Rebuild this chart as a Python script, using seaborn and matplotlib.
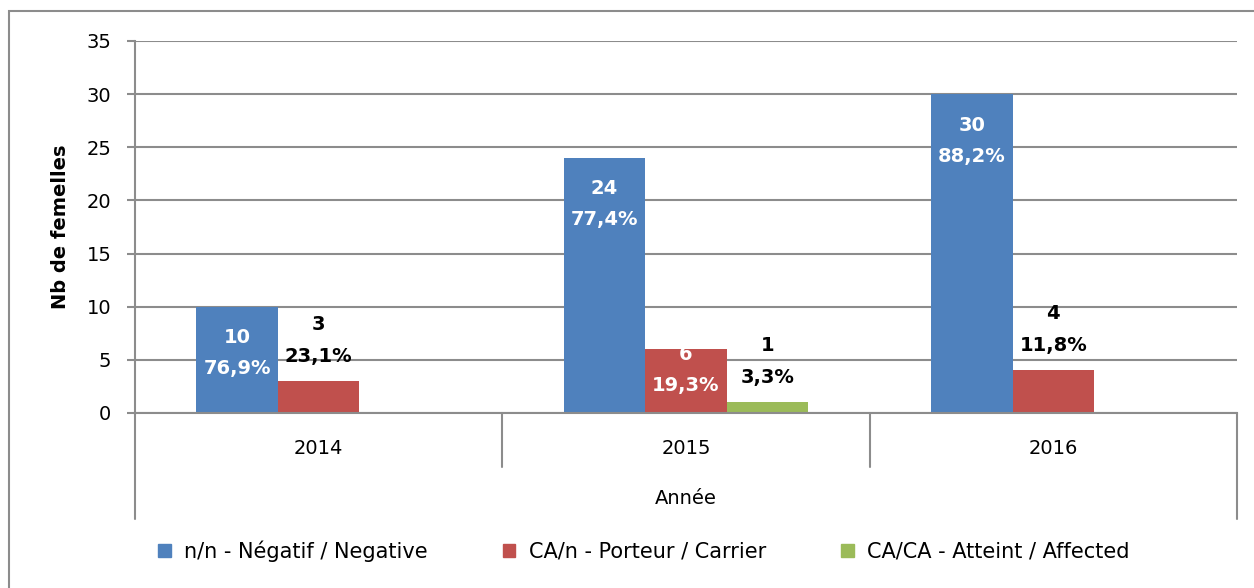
import pandas as pd
import seaborn as sns
import matplotlib.pyplot as plt
from matplotlib.patches import Rectangle
from matplotlib.lines import Line2D

years = ["2014", "2015", "2016"]
genotypes = [
    "n/n - Négatif / Negative",
    "CA/n - Porteur / Carrier",
    "CA/CA - Atteint / Affected",
]
negative = [10, 24, 30]
carrier = [3, 6, 4]
affected = [0, 1, 0]
negative_pct = ["76,9%", "77,4%", "88,2%"]
carrier_pct = ["23,1%", "19,3%", "11,8%"]
affected_pct = ["", "3,3%", ""]

colors = ["#4F81BD", "#C0504D", "#9BBB59"]
grid_col = "#8c8c8c"
fs = 14

df = pd.DataFrame({
    "Année": years * 3,
    "Génotype": [g for g in genotypes for _ in years],
    "Nb": negative + carrier + affected,
})
pcts = [negative_pct, carrier_pct, affected_pct]

sns.set_theme(style="white", rc={"text.color": "black", "axes.labelcolor": "black",
                                 "xtick.color": "black", "ytick.color": "black"})
plt.rcParams["font.family"] = ["DejaVu Sans"]

fig = plt.figure(figsize=(12.54, 5.88), dpi=100)
ax = fig.add_axes([135 / 1254, 1 - 413 / 588, (1237 - 135) / 1254, 372 / 588])

sns.barplot(data=df, x="Année", y="Nb", hue="Génotype", hue_order=genotypes,
            order=years, palette=colors, width=2 / 3, linewidth=0,
            saturation=1, ax=ax, legend=False)

ax.set_xlim(-0.5, 2.5)
ax.set_ylim(0, 35)
ax.set_yticks(range(0, 36, 5))
ax.yaxis.grid(True, color=grid_col, linewidth=1.5)
ax.set_axisbelow(True)
for s in ["top", "right"]:
    ax.spines[s].set_visible(False)
for s in ["left", "bottom"]:
    ax.spines[s].set_color(grid_col)
    ax.spines[s].set_linewidth(1.5)
ax.tick_params(axis="y", left=True, length=6, width=1.5, color=grid_col,
               labelcolor="black", pad=11, labelsize=fs)
ax.tick_params(axis="x", length=0, pad=19, labelsize=fs, labelcolor="black")
ax.set_ylabel("Nb de femelles", fontsize=fs, fontweight="bold", labelpad=12)
ax.set_xlabel("Année", fontsize=fs, labelpad=22)

# multi-level category frame below the axis
trans = ax.get_xaxis_transform()
for xb in [-0.5, 0.5, 1.5, 2.5]:
    y_end = -0.285 if xb in (-0.5, 2.5) else -0.145
    ax.add_line(Line2D([xb, xb], [0, y_end], transform=trans, color=grid_col,
                       linewidth=1.5, clip_on=False))

# data labels
px = 372 / 35
for i, cont in enumerate(ax.containers):
    for j, bar in enumerate(cont):
        val = bar.get_height()
        if val == 0:
            continue
        xc = bar.get_x() + bar.get_width() / 2
        h = val * px
        if i == 0 or val >= 5:
            off = min(31, h - 58)
            offs = [-off, -off - 31]
            col = "white"
        else:
            offs = [57, 25]
            col = "black"
        for txt, o in zip([f"{int(val)}", pcts[i][j]], offs):
            ax.annotate(txt, (xc, val), xytext=(0, o), textcoords="offset pixels",
                        ha="center", va="center", color=col, fontsize=fs,
                        fontweight="bold")

handles = [Rectangle((0, 0), 1, 1, color=c) for c in colors]
fig.legend(handles, genotypes, loc="center", bbox_to_anchor=(644 / 1254, 1 - 551 / 588),
           ncol=3, frameon=False, fontsize=15, handlelength=0.6, handleheight=0.6,
           handletextpad=0.65, columnspacing=3.6)

# outer chart border
fig.add_artist(Rectangle((9 / 1254, -0.1), 1.2, 1 - 11 / 588 + 0.1,
                         transform=fig.transFigure, fill=False,
                         edgecolor=grid_col, linewidth=1.5))

fig.savefig("out.png", dpi=100)
